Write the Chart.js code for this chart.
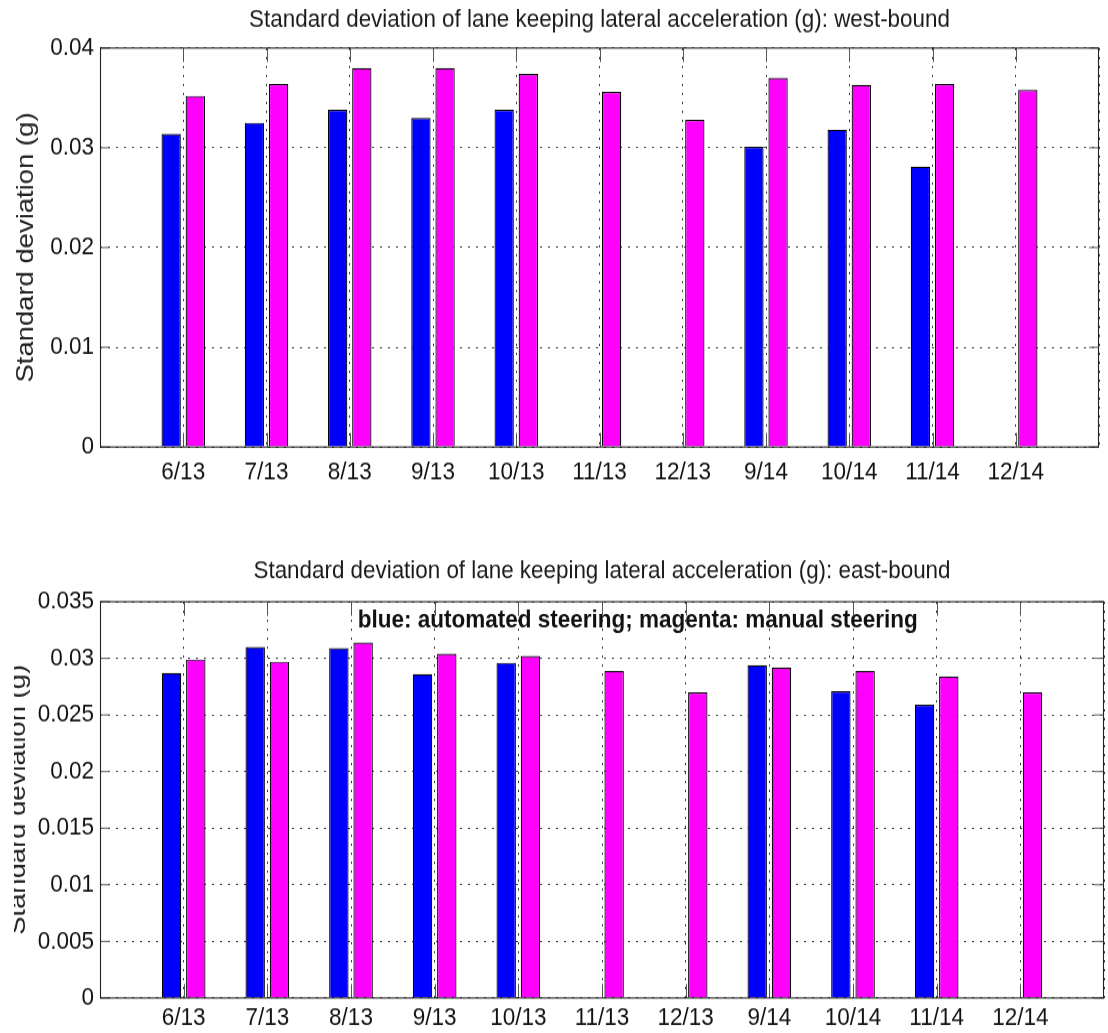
<!DOCTYPE html>
<html>
<head>
<meta charset="utf-8">
<script src="https://cdn.jsdelivr.net/npm/chart.js@4/dist/chart.umd.min.js"></script>
<style>
  html, body { margin: 0; padding: 0; background: #fff; }
  #wrap { position: relative; width: 1108px; height: 1033px; overflow: hidden; background: #fff; }
  .box { position: absolute; left: 0; width: 1108px; transform-origin: 0 0; transform: scaleY(1.12); }
  #topBox { top: 0; height: 446px; }
  #botBox { top: 540px; height: 440px; clip-path: inset(0 0 0 14px); }
  canvas { display: block; }
</style>
</head>
<body>
<div id="wrap">
  <div id="topBox" class="box"><canvas id="c1" width="1108" height="446"></canvas></div>
  <div id="botBox" class="box"><canvas id="c2" width="1108" height="440"></canvas></div>
</div>
<script>
// ---------- data ----------
const categories = ['6/13', '7/13', '8/13', '9/13', '10/13', '11/13', '12/13', '9/14', '10/14', '11/14', '12/14'];

const westAutomated = [0.0314, 0.0325, 0.0338, 0.0330, 0.0338, null, null, 0.0301, 0.0318, 0.0281, null];
const westManual    = [0.0352, 0.0364, 0.0380, 0.0380, 0.0374, 0.0356, 0.0328, 0.0370, 0.0363, 0.0364, 0.0358];

const eastAutomated = [0.0287, 0.0310, 0.0309, 0.0286, 0.0296, null, null, 0.0294, 0.0271, 0.0259, null];
const eastManual    = [0.0299, 0.0297, 0.0314, 0.0304, 0.0302, 0.0289, 0.0270, 0.0292, 0.0289, 0.0284, 0.0270];

const westYTickLabels = ['0', '0.01', '0.02', '0.03', '0.04'];
const eastYTickLabels = ['0', '0.005', '0.01', '0.015', '0.02', '0.025', '0.03', '0.035'];

const westTitle = 'Standard deviation of lane keeping lateral acceleration (g): west-bound';
const eastTitle = 'Standard deviation of lane keeping lateral acceleration (g): east-bound';
const yAxisTitle = 'Standard deviation (g)';
const noteText = 'blue: automated steering; magenta: manual steering';

// ---------- helpers ----------
const FONT = '"Liberation Sans", Arial, Helvetica, sans-serif';
const padded = arr => [null, ...arr, null];
const paddedLabels = ['', ...categories, ''];

// MATLAB-like box with inward ticks
const boxPlugin = {
  id: 'matBox',
  afterDraw(chart) {
    const { ctx, chartArea: a, scales } = chart;
    const x = scales.x, y = scales.y;
    ctx.save();
    ctx.strokeStyle = '#555';
    ctx.lineWidth = 1;
    ctx.beginPath();
    for (let i = 1; i < x.ticks.length - 1; i++) {
      const px = Math.round(x.getPixelForTick(i)) + 0.5;
      ctx.moveTo(px, a.top); ctx.lineTo(px, a.top + 12.5);
      ctx.moveTo(px, a.bottom); ctx.lineTo(px, a.bottom - 12.5);
    }
    for (let i = 0; i < y.ticks.length; i++) {
      const py = y.getPixelForTick(i);
      ctx.moveTo(a.left, py); ctx.lineTo(a.left + 10, py);
      ctx.moveTo(a.right, py); ctx.lineTo(a.right - 10, py);
    }
    ctx.stroke();
    ctx.strokeStyle = '#222';
    ctx.lineWidth = 1.1;
    ctx.strokeRect(Math.round(a.left) + 0.5, a.top, Math.round(a.right - a.left) - 1, a.bottom - a.top);
    ctx.restore();
  }
};

// in-plot text note placed via the scales
const notePlugin = {
  id: 'note',
  afterDatasetsDraw(chart, args, opts) {
    if (!opts || !opts.text) return;
    const { ctx, scales } = chart;
    const px = scales.x.getPixelForValue(opts.xIndex);
    const py = scales.y.getPixelForValue(opts.yValue);
    ctx.save();
    ctx.font = 'bold ' + opts.size + 'px ' + FONT;
    ctx.fillStyle = '#111';
    ctx.textAlign = 'left';
    ctx.textBaseline = 'alphabetic';
    ctx.fillText(opts.text, px, py);
    ctx.restore();
  }
};

function makeChart(canvasId, cfg) {
  return new Chart(document.getElementById(canvasId), {
    type: 'bar',
    data: {
      labels: paddedLabels,
      datasets: [
        { label: 'automated steering', data: padded(cfg.auto), backgroundColor: '#0000ff',
          borderColor: '#000', borderWidth: 1.2, categoryPercentage: 0.58, barPercentage: 0.8 },
        { label: 'manual steering', data: padded(cfg.manual), backgroundColor: '#ff00ff',
          borderColor: '#000', borderWidth: 1.2, categoryPercentage: 0.58, barPercentage: 0.8 }
      ]
    },
    options: {
      responsive: false,
      animation: false,
      events: [],
      layout: { padding: { left: 0, right: 3, top: 0, bottom: 0 } },
      plugins: {
        legend: { display: false },
        tooltip: { enabled: false },
        title: {
          display: true, text: cfg.title, fullSize: false, color: '#1a1a1a',
          font: { family: FONT, size: 22.4, weight: 'normal' },
          padding: cfg.titlePad
        },
        note: cfg.note || {}
      },
      scales: {
        x: {
          type: 'category',
          offset: false,
          grid: { offset: false, color: '#333', lineWidth: 1, drawTicks: false },
          border: { display: false, dash: [2, 6] },
          ticks: { color: '#111', font: { family: FONT, size: 22.5 }, padding: cfg.xPad,
                   maxRotation: 0, autoSkip: false },
          afterFit: s => { s.height = cfg.xHeight; }
        },
        y: {
          min: 0, max: cfg.yMax,
          ticks: { stepSize: cfg.yStep, color: '#111', font: { family: FONT, size: 22.5 }, padding: 6,
                   callback: (v, i) => cfg.yLabels[i] },
          grid: { color: '#333', lineWidth: 1, drawTicks: false },
          border: { display: false, dash: [2, 6] },
          title: { display: true, text: yAxisTitle, color: '#222',
                   font: { family: FONT, size: 24.5 }, padding: { top: cfg.yTitlePad, bottom: 0 } },
          afterFit: s => { s.width = 100; }
        }
      }
    },
    plugins: [boxPlugin, notePlugin]
  });
}

makeChart('c1', {
  auto: westAutomated, manual: westManual, title: westTitle,
  titlePad: { top: 4.5, bottom: 11.5 }, xPad: 9, xHeight: 46.9,
  yMax: 0.04, yStep: 0.01, yLabels: westYTickLabels, yTitlePad: 11.3
});

makeChart('c2', {
  auto: eastAutomated, manual: eastManual, title: eastTitle,
  titlePad: { top: 14.3, bottom: 13.9 }, xPad: 4, xHeight: 31.1,
  yMax: 0.035, yStep: 0.005, yLabels: eastYTickLabels, yTitlePad: 4,
  note: { text: noteText, xIndex: 3.08, yValue: 0.0327, size: 22.5 }
});
</script>
</body>
</html>
